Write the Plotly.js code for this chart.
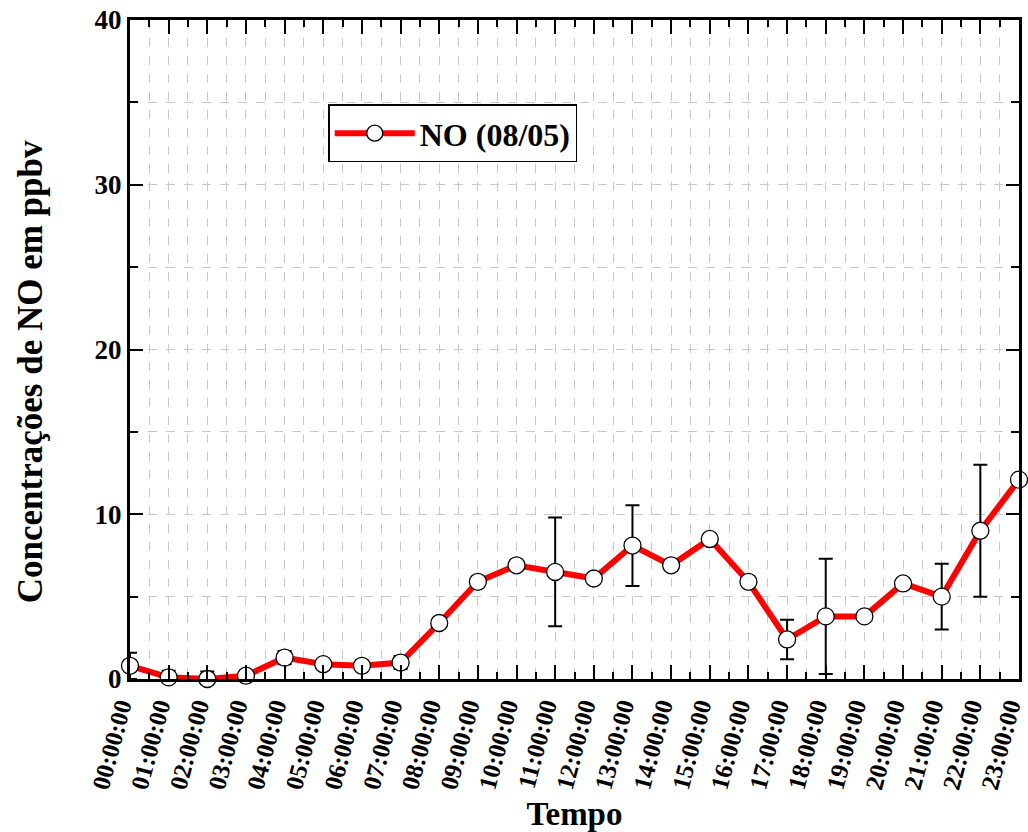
<!DOCTYPE html>
<html>
<head>
<meta charset="utf-8">
<script src="https://cdn.plot.ly/plotly-3.0.1.min.js"></script>
<style>html,body{margin:0;padding:0;background:#fff;}#chart{width:1028px;height:832px;}</style>
</head>
<body>
<div id="chart"></div>
<script>
const hours = [0,1,2,3,4,5,6,7,8,9,10,11,12,13,14,15,16,17,18,19,20,21,22,23];
const tickLabels = ["00:00:00","01:00:00","02:00:00","03:00:00","04:00:00","05:00:00","06:00:00","07:00:00","08:00:00","09:00:00","10:00:00","11:00:00","12:00:00","13:00:00","14:00:00","15:00:00","16:00:00","17:00:00","18:00:00","19:00:00","20:00:00","21:00:00","22:00:00","23:00:00"];
const noValues = [0.8,0.1,0.0,0.2,1.3,0.9,0.8,1.0,3.4,5.9,6.9,6.5,6.1,8.1,6.9,8.5,5.9,2.4,3.8,3.8,5.8,5.0,9.0,12.1];
const noErrors = [0.8,0.4,0.45,0,0.4,0,0,0.4,0,0,0,3.3,0,2.45,0,0,0,1.2,3.5,0,0,2.0,4.0,0];
const yTitle = 'Concentrações de NO em ppbv';
const xTitle = 'Tempo';

const serif = 'Liberation Serif, Times New Roman, serif';

const trace = {
  x: hours,
  y: noValues,
  type: 'scatter',
  mode: 'lines+markers',
  name: 'NO (08/05)',
  line: {color: '#ff0000', width: 6},
  marker: {symbol: 'circle', size: 17, color: '#ffffff', line: {color: '#000000', width: 1.3}},
  error_y: {type: 'data', array: noErrors, visible: true, color: '#000000', thickness: 2, width: 7},
  cliponaxis: false
};

const layout = {
  width: 1028,
  height: 832,
  margin: {l: 130, r: 9, t: 20, b: 153},
  paper_bgcolor: '#ffffff',
  plot_bgcolor: '#ffffff',
  showlegend: true,
  legend: {
    x: 0.223, y: 0.872, xanchor: 'left', yanchor: 'top',
    bgcolor: '#ffffff', bordercolor: '#000000', borderwidth: 1.5,
    font: {family: serif, size: 32, color: '#000', weight: 'bold'},
    itemwidth: 80, tracegroupgap: 0
  },
  xaxis: {
    range: [0, 23],
    tickmode: 'array',
    tickvals: hours,
    ticktext: tickLabels,
    tickangle: -75,
    ticklabeloverflow: 'allow',
    ticklabelshift: -10,
    ticks: 'inside',
    ticklen: 14,
    tickwidth: 2,
    tickcolor: '#000',
    showline: true,
    linecolor: '#000',
    linewidth: 3,
    mirror: 'ticks',
    showgrid: true,
    gridcolor: '#c8c8c8',
    griddash: 'dash',
    gridwidth: 1,
    zeroline: false,
    automargin: false,
    minor: {dtick: 0.5, tick0: 0, ticks: 'inside', ticklen: 7, tickwidth: 2, tickcolor: '#000', showgrid: true, gridcolor: '#c8c8c8', griddash: 'dash', gridwidth: 1},
    tickfont: {family: serif, size: 25, color: '#000', weight: 'bold'},
    title: {text: xTitle, font: {family: serif, size: 33, color: '#000', weight: 'bold'}, standoff: 12}
  },
  yaxis: {
    range: [0, 40],
    tickvals: [0, 10, 20, 30, 40],
    ticks: 'inside',
    ticklen: 13,
    tickwidth: 2,
    tickcolor: '#000',
    showline: true,
    linecolor: '#000',
    linewidth: 3,
    mirror: 'ticks',
    showgrid: true,
    gridcolor: '#c8c8c8',
    griddash: 'dash',
    gridwidth: 1,
    zeroline: false,
    automargin: false,
    minor: {dtick: 5, tick0: 0, ticks: 'inside', ticklen: 8, tickwidth: 2, tickcolor: '#000', showgrid: true, gridcolor: '#c8c8c8', griddash: 'dash', gridwidth: 1},
    tickfont: {family: serif, size: 27, color: '#000', weight: 'bold'}
  },
  annotations: [{
    text: yTitle,
    xref: 'paper', yref: 'paper',
    x: -0.1125, y: 0.467,
    xanchor: 'center', yanchor: 'middle',
    textangle: -90,
    showarrow: false,
    font: {family: serif, size: 35, color: '#000', weight: 'bold'}
  }]
};

Plotly.newPlot('chart', [trace], layout, {displayModeBar: false, staticPlot: true});
</script>
</body>
</html>
